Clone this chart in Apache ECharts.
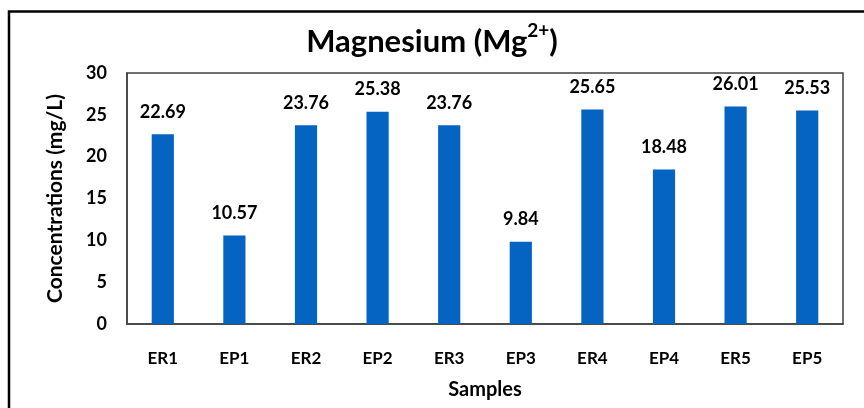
<!DOCTYPE html>
<html><head><meta charset="utf-8">
<script src="https://cdn.jsdelivr.net/npm/echarts@6/dist/echarts.min.js"></script>
<style>html,body{margin:0;padding:0;background:#fff}#c{width:864px;height:408px}</style>
</head><body><div id="c"></div>
<script>
const categories = ['ER1','EP1','ER2','EP2','ER3','EP3','ER4','EP4','ER5','EP5'];
const values = [22.69, 10.57, 23.76, 25.38, 23.76, 9.84, 25.65, 18.48, 26.01, 25.53];
const yTicks = [0, 5, 10, 15, 20, 25, 30];

const FONT = 'Lato';
const chart = echarts.init(document.getElementById('c'), null, {renderer: 'canvas'});
chart.setOption({
  animation: false,
  backgroundColor: '#fff',
  textStyle: {fontFamily: FONT},
  title: {
    text: '{t|Magnesium (Mg}{s|2+}{t|)}',
    left: 'center', top: 16,
    textStyle: {
      rich: {
        t: {fontFamily: FONT, fontWeight: 'bold', fontSize: 31, color: '#000', verticalAlign: 'bottom', lineHeight: 36},
        s: {fontFamily: FONT, fontWeight: 'bold', fontSize: 19, color: '#000', verticalAlign: 'top', lineHeight: 36, padding: [0,0,3,0]}
      }
    }
  },
  graphic: [{
    type: 'rect', silent: true, z: 100,
    shape: {x: 9, y: 11.5, width: 900, height: 500},
    style: {fill: 'none', stroke: '#000', lineWidth: 2.5}
  }],
  grid: {left: 127, right: 21, top: 73, bottom: 84, show: true, borderColor: '#404040', borderWidth: 1.5, backgroundColor: 'transparent'},
  xAxis: {
    type: 'category', data: categories,
    name: 'Samples', nameLocation: 'middle', nameGap: 56,
    nameTextStyle: {fontFamily: FONT, fontWeight: 'bold', fontSize: 20, color: '#000'},
    axisLine: {show: true, lineStyle: {color: '#404040', width: 1.5}},
    axisTick: {show: false},
    axisLabel: {fontFamily: FONT, fontWeight: 'bold', fontSize: 17, color: '#000', margin: 26}
  },
  yAxis: {
    type: 'value', min: yTicks[0], max: yTicks[yTicks.length-1], interval: 5,
    name: 'Concentrations (mg/L)', nameLocation: 'middle', nameGap: 61, nameRotate: 90,
    nameTextStyle: {fontFamily: FONT, fontWeight: 'bold', fontSize: 21, color: '#000'},
    axisLine: {show: true, lineStyle: {color: '#404040', width: 1.5}},
    axisTick: {show: false},
    splitLine: {show: false},
    axisLabel: {fontFamily: FONT, fontWeight: 'bold', fontSize: 18, color: '#000', margin: 20}
  },
  series: [{
    type: 'bar', data: values, barWidth: '31%',
    itemStyle: {color: '#0563C1'},
    label: {show: true, position: 'top', distance: 13, fontFamily: FONT, fontWeight: 'bold', fontSize: 18, color: '#000',
      formatter: p => p.value.toFixed(2)}
  }]
});
</script></body></html>
